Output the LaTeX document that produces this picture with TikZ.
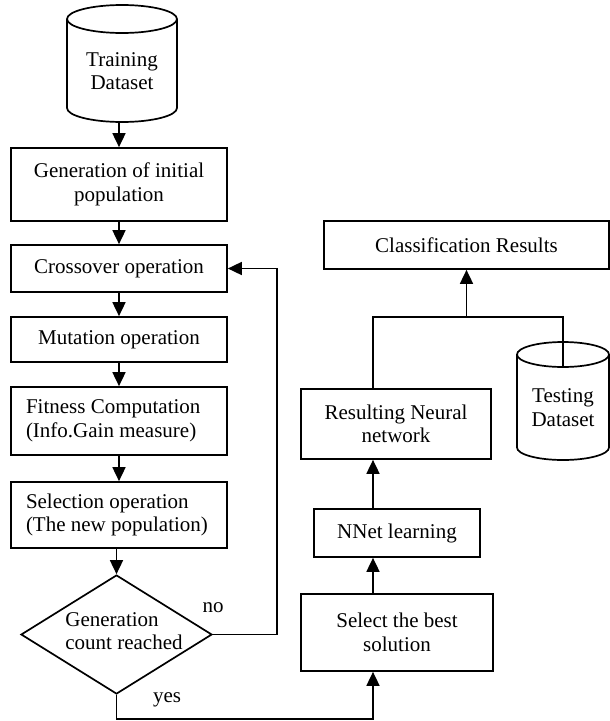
\documentclass[tikz,border=0pt]{standalone}
\usepackage{fontspec}
\setmainfont{Liberation Serif}
\usetikzlibrary{arrows.meta,shapes.geometric}

\begin{document}
\begin{tikzpicture}[x=1pt,y=-1pt,
  font=\fontsize{21}{23.5}\selectfont,
  line width=1.7pt,
  box/.style={draw,rectangle,inner sep=0pt,align=center},
  decision/.style={draw,diamond,inner sep=0pt,minimum width=191pt,minimum height=119pt},
  arr/.style={-{Triangle[length=14pt,width=13pt]}}]
\useasboundingbox (0,0) rectangle (610,721);

% Training data store
\draw (67,19) -- (67,108) arc[start angle=180,end angle=360,x radius=55pt,y radius=14pt] -- (177,19);
\draw (122,19) ellipse[x radius=55pt,y radius=14pt];
\node[align=center] (train) at (122,71) {Training\\Dataset};
\coordinate (train-base) at (119,122);

% Genetic search column
\node[box,minimum width=216pt,minimum height=73pt] (gen) at (119,184.5) {Generation of initial\\population};
\node[box,minimum width=216pt,minimum height=47pt] (cross) at (119,268.5) {Crossover operation};
\node[box,minimum width=216pt,minimum height=45pt] (mut) at (119,339.5) {Mutation operation};
\node[box,minimum width=216pt,minimum height=68pt,text width=186pt,align=flush left] (fit) at (119,421) {Fitness Computation\\(Info.Gain measure)};
\node[box,minimum width=216pt,minimum height=66pt,text width=186pt,align=flush left] (sel) at (119,515) {Selection operation\\(The new population)};
\node[decision] (dec) at (116.5,634.5) {};
\node[align=flush left] (dec-txt) at (124,631) {Generation\\count reached};
\node (no) at (213,608) {no};
\node (yes) at (167,700) {yes};

\draw[arr] (train-base) -- (gen.north);
\draw[arr] (gen) -- (cross);
\draw[arr] (cross) -- (mut);
\draw[arr] (mut) -- (fit);
\draw[arr] (fit) -- (sel);
\draw[arr] (sel.south -| dec.north) -- (dec.north);

% Network column
\coordinate (rx) at (373,0);
\node[box,minimum width=285pt,minimum height=48pt] (cls) at (466.5,245) {Classification Results};
\node[box,minimum width=190pt,minimum height=70pt] (res) at (396,424) {Resulting Neural\\network};
\node[box,minimum width=166pt,minimum height=48pt] (nnet) at (397,533) {NNet learning};
\node[box,minimum width=192pt,minimum height=77pt] (best) at (397,632.5) {Select the best\\solution};

\draw[arr] (rx |- best.north) -- (rx |- nnet.south);
\draw[arr] (rx |- nnet.north) -- (rx |- res.south);

% Loop back and exit
\coordinate (fb) at (277,0);
\draw[arr] (dec.east) -- (dec.east -| fb) -- (fb |- cross.east) -- (cross.east);
\coordinate (yb) at (0,719);
\draw[arr] (dec.south) -- (dec.south |- yb) -- (yb -| rx) -- (rx |- best.south);

% Testing data store
\draw (517,354.5) -- (517,447.5) arc[start angle=180,end angle=360,x radius=46pt,y radius=12.5pt] -- (609,354.5);
\draw (563,354.5) ellipse[x radius=46pt,y radius=12.5pt];
\node[align=center] (test) at (563,407.5) {Testing\\Dataset};
\coordinate (test-in) at (563,366);

\coordinate (jn) at (0,317);
\draw (rx |- res.north) -- (rx |- jn) -- (jn -| test-in) -- (test-in);
\draw[arr] (cls.south |- jn) -- (cls.south);
\end{tikzpicture}
\end{document}
